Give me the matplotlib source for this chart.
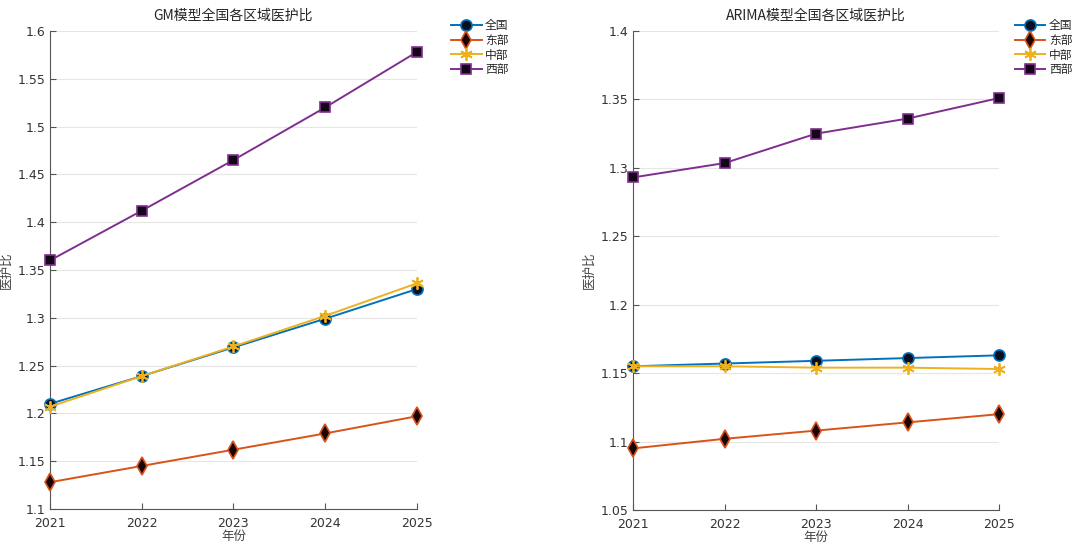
import matplotlib.pyplot as plt

plt.rcParams['font.family'] = ['DejaVu Sans', 'Noto Sans CJK SC']

years = [2021, 2022, 2023, 2024, 2025]
regions = ['全国', '东部', '中部', '西部']

# GM 模型预测
gm_values = {
    '全国': [1.210, 1.239, 1.269, 1.299, 1.330],
    '东部': [1.128, 1.145, 1.162, 1.179, 1.197],
    '中部': [1.207, 1.239, 1.270, 1.302, 1.336],
    '西部': [1.360, 1.412, 1.465, 1.520, 1.578],
}

# ARIMA 模型预测
arima_values = {
    '全国': [1.155, 1.157, 1.159, 1.161, 1.163],
    '东部': [1.095, 1.102, 1.108, 1.114, 1.120],
    '中部': [1.155, 1.155, 1.154, 1.154, 1.153],
    '西部': [1.293, 1.3035, 1.325, 1.336, 1.351],
}

gm_yticks = [1.1, 1.15, 1.2, 1.25, 1.3, 1.35, 1.4, 1.45, 1.5, 1.55, 1.6]
arima_yticks = [1.05, 1.1, 1.15, 1.2, 1.25, 1.3, 1.35, 1.4]

estilos = {
    '全国': dict(color='#0072BD', marker='o', mfc='#0a1020', mec='#0072BD', ms=8, mew=1.2),
    '东部': dict(color='#D95319', marker='d', mfc='#1a0505', mec='#D95319', ms=9, mew=1.2),
    '中部': dict(color='#EDB120', marker=(6, 2, 0), mfc='#EDB120', mec='#EDB120', ms=9, mew=1.3),
    '西部': dict(color='#7E2F8E', marker='s', mfc='#140518', mec='#7E2F8E', ms=7, mew=1.2),
}

cjk = ['Noto Sans CJK SC', 'DejaVu Sans']
fig = plt.figure(figsize=(10.79, 5.46), dpi=100)
ax1 = fig.add_axes([0.0463, 0.0678, 0.340, 0.8754])
ax2 = fig.add_axes([0.5867, 0.0660, 0.3392, 0.8772])


def dibujar(ax, datos, yticks, titulo, leg_x):
    for r in regions:
        ax.plot(years, datos[r], lw=1.4, label=r, clip_on=False, zorder=3, **estilos[r])
    ax.set_xlim(years[0], years[-1])
    ax.set_ylim(yticks[0], yticks[-1])
    ax.set_xticks(years)
    ax.set_yticks(yticks)
    ax.set_yticklabels([f'{t:g}' for t in yticks])
    ax.grid(axis='y', color='#e6e6e6', lw=0.8)
    ax.set_axisbelow(True)
    for s in ['top', 'right']:
        ax.spines[s].set_visible(False)
    for s in ['left', 'bottom']:
        ax.spines[s].set_color('#555555')
        ax.spines[s].set_linewidth(0.8)
    ax.tick_params(direction='in', length=4, colors='#555555', labelcolor='#333333',
                   labelsize=9)
    ax.tick_params(axis='x', pad=6)
    ax.set_title(titulo, fontsize=10, family=cjk, color='#262626', pad=8)
    ax.set_xlabel('年份', fontsize=9, family=cjk, color='#404040', labelpad=0)
    ax.set_ylabel('医护比', fontsize=9, family=cjk, color='#404040')
    ax.yaxis.set_label_coords(-0.103, 0.5)
    leg = ax.legend(loc='upper left', bbox_to_anchor=(leg_x, 1.035), frameon=False,
                    prop={'family': cjk, 'size': 8.5},
                    handlelength=2.6, handletextpad=0.3, labelspacing=0.15,
                    borderaxespad=0)
    for t in leg.get_texts():
        t.set_color('#262626')


dibujar(ax1, gm_values, gm_yticks, 'GM模型全国各区域医护比', 1.08)
dibujar(ax2, arima_values, arima_yticks, 'ARIMA模型全国各区域医护比', 1.03)

fig.savefig('out.png', dpi=100)
